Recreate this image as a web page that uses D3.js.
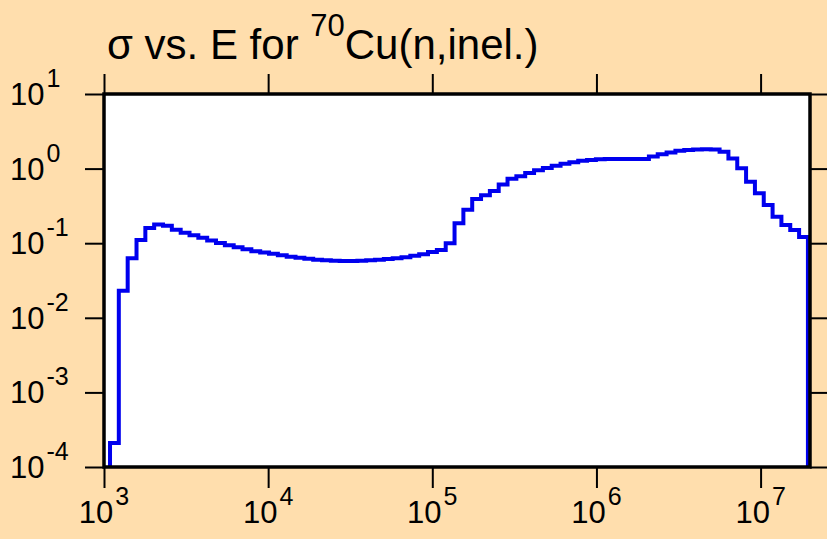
<!DOCTYPE html>
<html>
<head>
<meta charset="utf-8">
<script src="https://cdn.jsdelivr.net/npm/d3@7"></script>
<style>
  html, body { margin: 0; padding: 0; background: #FFDEAD; }
  svg { display: block; }
  text { font-family: Arial, "Liberation Sans", Helvetica, sans-serif; fill: #000; }
</style>
</head>
<body>
<svg id="chart" width="827" height="539"></svg>
<script>
// ---- data ----
// group boundaries, eV
const energyEdges = [
  1088, 1231, 1394, 1578, 1786, 2021, 2288, 2590, 2932, 3319,
  3756, 4252, 4813, 5449, 6167, 6981, 7901, 8944, 10125, 11460,
  12972, 14683, 16619, 18813, 21294, 24102, 27280, 30877, 34953, 39563,
  44779, 50685, 57369, 64939, 73502, 83195, 94168, 106640, 120710, 136640,
  154650, 175040, 198150, 224290, 253860, 287330, 325220, 368100, 416870, 471830,
  534040, 604460, 684160, 774490, 876610, 992430, 1123300, 1271400, 1439600, 1629300,
  1844200, 2087400, 2362600, 2675000, 3027700, 3426800, 3878700, 4390100, 4970400, 5625800,
  6368000, 7207800, 8158000, 9236700, 10454000, 11833000, 13393000, 15159000, 17163000, 19426000
];
// cross section per group, barns
const sigma = [
  0.00021, 0.023, 0.063, 0.110, 0.160, 0.178, 0.172, 0.152, 0.138, 0.128,
  0.118, 0.109, 0.101, 0.094, 0.088, 0.083, 0.078, 0.075, 0.072, 0.069,
  0.066, 0.064, 0.062, 0.060, 0.059, 0.058, 0.0578, 0.0578, 0.0582, 0.059,
  0.060, 0.0615, 0.063, 0.065, 0.068, 0.071, 0.076, 0.081, 0.100, 0.185,
  0.28, 0.39, 0.44, 0.50, 0.61, 0.73, 0.79, 0.87, 0.95, 1.02,
  1.09, 1.16, 1.22, 1.27, 1.30, 1.33, 1.34, 1.35, 1.35, 1.35,
  1.34, 1.45, 1.56, 1.65, 1.73, 1.78, 1.81, 1.82, 1.80, 1.68,
  1.37, 1.01, 0.667, 0.467, 0.325, 0.226, 0.175, 0.150, 0.121
];
const xTickExponents = ["3", "4", "5", "6", "7"];
const yTickExponents = ["1", "0", "-1", "-2", "-3", "-4"];
const titleMain = "σ vs. E for ";
const titleSup = "70";
const titleRest = "Cu(n,inel.)";

(function () {
  // ---- layout ----
  const pL = 104, pR = 810, pT = 94, pB = 467;
  const svg = d3.select("#chart");

  const x = d3.scaleLog().domain([1e3, 2e7]).range([pL, pR]);
  const y = d3.scaleLog().domain([1e-4, 10]).range([pB, pT]);

  // plot area
  svg.append("rect")
    .attr("x", pL).attr("y", pT)
    .attr("width", pR - pL).attr("height", pB - pT)
    .attr("fill", "#ffffff");

  // data line (histogram steps)
  const stepPts = sigma.map((v, i) => [energyEdges[i], v]);
  stepPts.push([energyEdges[energyEdges.length - 1], sigma[sigma.length - 1]]);

  const line = d3.line()
    .x(d => x(d[0]))
    .y(d => y(Math.max(d[1], 1e-4)))
    .curve(d3.curveStepAfter);

  const e0 = energyEdges[0], eN = energyEdges[energyEdges.length - 1];
  let dStr = "M" + x(e0) + "," + y(1e-4);
  dStr += "L" + line(stepPts).slice(1);
  dStr += "L" + x(eN) + "," + y(1e-4);

  svg.append("path")
    .attr("d", dStr)
    .attr("fill", "none")
    .attr("stroke", "#0000ee")
    .attr("stroke-width", 4)
    .attr("stroke-linejoin", "miter")
    .attr("stroke-linecap", "butt");

  // axes (tick marks only)
  const xTickVals = xTickExponents.map(e => Math.pow(10, +e));
  const yTickVals = yTickExponents.map(e => Math.pow(10, +e));

  function styleAxis(g) {
    g.select(".domain").remove();
    g.selectAll(".tick line").attr("stroke", "#000").attr("stroke-width", 2);
    g.selectAll(".tick text").remove();
  }

  svg.append("g").attr("transform", `translate(0,${pB})`)
    .call(d3.axisBottom(x).tickValues(xTickVals).tickSize(21).tickFormat(""))
    .call(styleAxis);
  svg.append("g").attr("transform", `translate(0,${pT})`)
    .call(d3.axisTop(x).tickValues(xTickVals).tickSize(20).tickFormat(""))
    .call(styleAxis);
  svg.append("g").attr("transform", `translate(${pL},0)`)
    .call(d3.axisLeft(y).tickValues(yTickVals).tickSize(19).tickFormat(""))
    .call(styleAxis);
  svg.append("g").attr("transform", `translate(${pR},0)`)
    .call(d3.axisRight(y).tickValues(yTickVals).tickSize(19).tickFormat(""))
    .call(styleAxis);

  // frame
  svg.append("rect")
    .attr("x", pL).attr("y", pT)
    .attr("width", pR - pL).attr("height", pB - pT)
    .attr("fill", "none").attr("stroke", "#000").attr("stroke-width", 3.5);

  // x tick labels
  const labFs = 31, supFs = 25;
  xTickExponents.forEach((e, i) => {
    const t = svg.append("text")
      .attr("x", x(xTickVals[i]))
      .attr("y", 523)
      .attr("text-anchor", "middle")
      .attr("font-size", labFs);
    t.append("tspan").text("10");
    t.append("tspan").attr("font-size", supFs).attr("dy", -18).attr("dx", 2).text(e);
  });

  // y tick labels
  yTickExponents.forEach((e, i) => {
    const t = svg.append("text")
      .attr("x", 10)
      .attr("y", y(yTickVals[i]) + 11)
      .attr("text-anchor", "start")
      .attr("font-size", labFs);
    t.append("tspan").text("10");
    t.append("tspan").attr("font-size", supFs).attr("dy", -18).attr("dx", 2).text(e);
  });

  // title
  const title = svg.append("text")
    .attr("x", 107).attr("y", 59)
    .attr("font-size", 42);
  title.append("tspan").text(titleMain);
  title.append("tspan").attr("font-size", 31).attr("dy", -23).text(titleSup);
  title.append("tspan").attr("dy", 23).text(titleRest);
})();
</script>
</body>
</html>
